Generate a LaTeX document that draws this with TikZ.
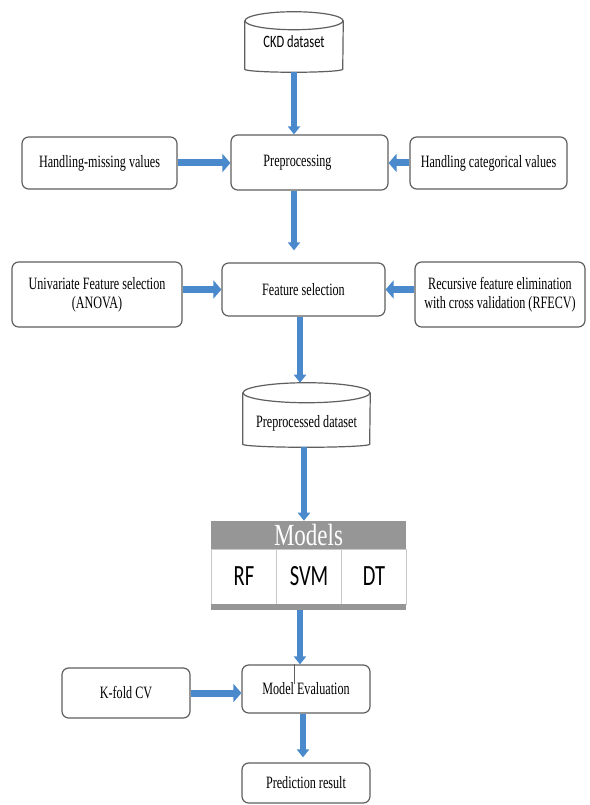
\documentclass[tikz,border=0pt]{standalone}
\usepackage{fontspec}
\setmainfont{Liberation Serif}
\newfontfamily\boxfont[FakeStretch=0.7]{Liberation Serif}
\newfontfamily\titlefont[FakeStretch=0.75]{Liberation Serif}
\newfontfamily\cellfont[FakeStretch=0.7]{Carlito}
\newfontfamily\ckdfont[FakeStretch=0.72]{Carlito}
\usetikzlibrary{arrows.meta}
\definecolor{flowblue}{RGB}{74,138,204}
\definecolor{edgegray}{RGB}{95,95,95}
\definecolor{bargray}{RGB}{150,150,150}
\definecolor{cellline}{RGB}{200,200,200}

\begin{document}
\begin{tikzpicture}[x=0.75pt,y=-0.75pt,
  sz/.style 2 args={minimum width=#1*0.75pt, minimum height=#2*0.75pt},
  box/.style={draw=edgegray, line width=0.9pt, rounded corners=5pt, fill=white,
    align=center, inner sep=0pt, font=\boxfont\fontsize{13}{14.5}\selectfont},
  plain/.style={align=center, inner sep=0pt, font=\boxfont\fontsize{13}{14.5}\selectfont},
  cyl/.style={draw=edgegray, line width=0.9pt},
  cell/.style={draw=cellline, line width=0.75pt, inner sep=0pt,
    font=\cellfont\fontsize{22}{24}\selectfont},
  bar/.style={fill=bargray, inner sep=0pt},
  vflow/.style={draw=flowblue, line width=4pt, -{Triangle[width=9pt,length=6pt]}},
  hflow/.style={draw=flowblue, line width=5.25pt, -{Triangle[width=13.5pt,length=6pt]}}
]
\useasboundingbox (0,0) rectangle (589,805);
\fill[white] (0,0) rectangle (589,805);

% --- CKD dataset (cylinder) ---
\node[plain, sz={98}{60}, font=\ckdfont\fontsize{13}{14}\selectfont] (ckd) at (294,42) {CKD dataset};
\draw[cyl] ([yshift=-6.75pt]ckd.north west) -- ([yshift=2.25pt]ckd.south west)
  arc[start angle=180, end angle=360, x radius=36.75pt, y radius=2.25pt]
  -- ([yshift=-6.75pt]ckd.north east);
\draw[cyl] ([yshift=-6.75pt]ckd.north) ellipse[x radius=36.75pt, y radius=6.75pt];

% --- preprocessing row ---
\node[box, sz={157}{55}] (pre) at (309.5,162.5) {Preprocessing\hspace*{18pt}};
\node[box, sz={155}{52}] (hm)  at (99.5,163)  {Handling-missing values};
\node[box, sz={157}{52}] (hc)  at (488.5,163) {Handling categorical values};

% --- feature selection row ---
\node[box, sz={163}{53}] (fs)    at (303.5,289.5) {Feature selection};
\node[box, sz={170}{65}] (uni)   at (97,294.5)  {Univariate Feature selection\\(ANOVA)};
\node[box, sz={170}{65}] (rfecv) at (500,294.5) {Recursive feature elimination\\with cross validation (RFECV)};

% --- preprocessed dataset (cylinder) ---
\node[plain, sz={127}{64}] (pd) at (306.5,415) {\raisebox{-9pt}[0pt][0pt]{Preprocessed dataset}};
\draw[cyl] ([yshift=-7.5pt]pd.north west) -- ([yshift=2.25pt]pd.south west)
  arc[start angle=180, end angle=360, x radius=47.6pt, y radius=2.25pt]
  -- ([yshift=-7.5pt]pd.north east);
\draw[cyl] ([yshift=-7.5pt]pd.north) ellipse[x radius=47.6pt, y radius=7.5pt];

% --- models table ---
\node[bar, sz={195}{28}, text=white, font=\titlefont\fontsize{23}{23}\selectfont]
  (models) at (308.5,535) {Models};
\node[cell, sz={65}{55}] (rf)  at (244,576.5) {RF};
\node[cell, sz={65}{55}] (svm) at (309,576.5) {SVM};
\node[cell, sz={65}{55}] (dt)  at (374,576.5) {DT};
\node[bar, sz={195}{6}] (mbase) at (308.5,607) {};

% --- evaluation ---
\node[box, sz={128}{48}] (me) at (306,689) {Model Evaluation};
\node[box, sz={128}{50}] (kf) at (126,693) {K-fold CV};
\node[box, sz={128}{40}] (pr) at (306,783) {Prediction result};
% thin tick inside the evaluation box
\draw[edgegray, line width=0.6pt] ([xshift=-9pt]me.north) -- ++(0,20);

% --- vertical flow ---
\draw[vflow] (ckd.south) -- (ckd.south |- pre.north);
\draw[vflow, shorten >=9pt] (ckd.south |- pre.south) -- (ckd.south |- fs.north);
\draw[vflow] ([xshift=-2.6pt]fs.south) -- ([xshift=-2.6pt]fs.south |- pd.north);
\draw[vflow] ([xshift=-1.9pt]pd.south) -- ([xshift=-1.9pt]pd.south |- models.north);
\draw[vflow] ([xshift=-6.4pt]mbase.south) -- ([xshift=-6.4pt]mbase.south |- me.north);
\draw[vflow, shorten >=3.75pt] ([xshift=-2.25pt]me.south) -- ([xshift=-2.25pt]me.south |- pr.north);

% --- side inputs ---
\draw[hflow] (hm.east) -- (hm.east -| pre.west);
\draw[hflow] (hc.west) -- (hc.west -| pre.east);
\draw[hflow] (uni.east |- fs.west) -- (fs.west);
\draw[hflow] (rfecv.west |- fs.east) -- (fs.east);
\draw[hflow] (kf.east) -- (kf.east -| me.west);
\end{tikzpicture}
\end{document}
